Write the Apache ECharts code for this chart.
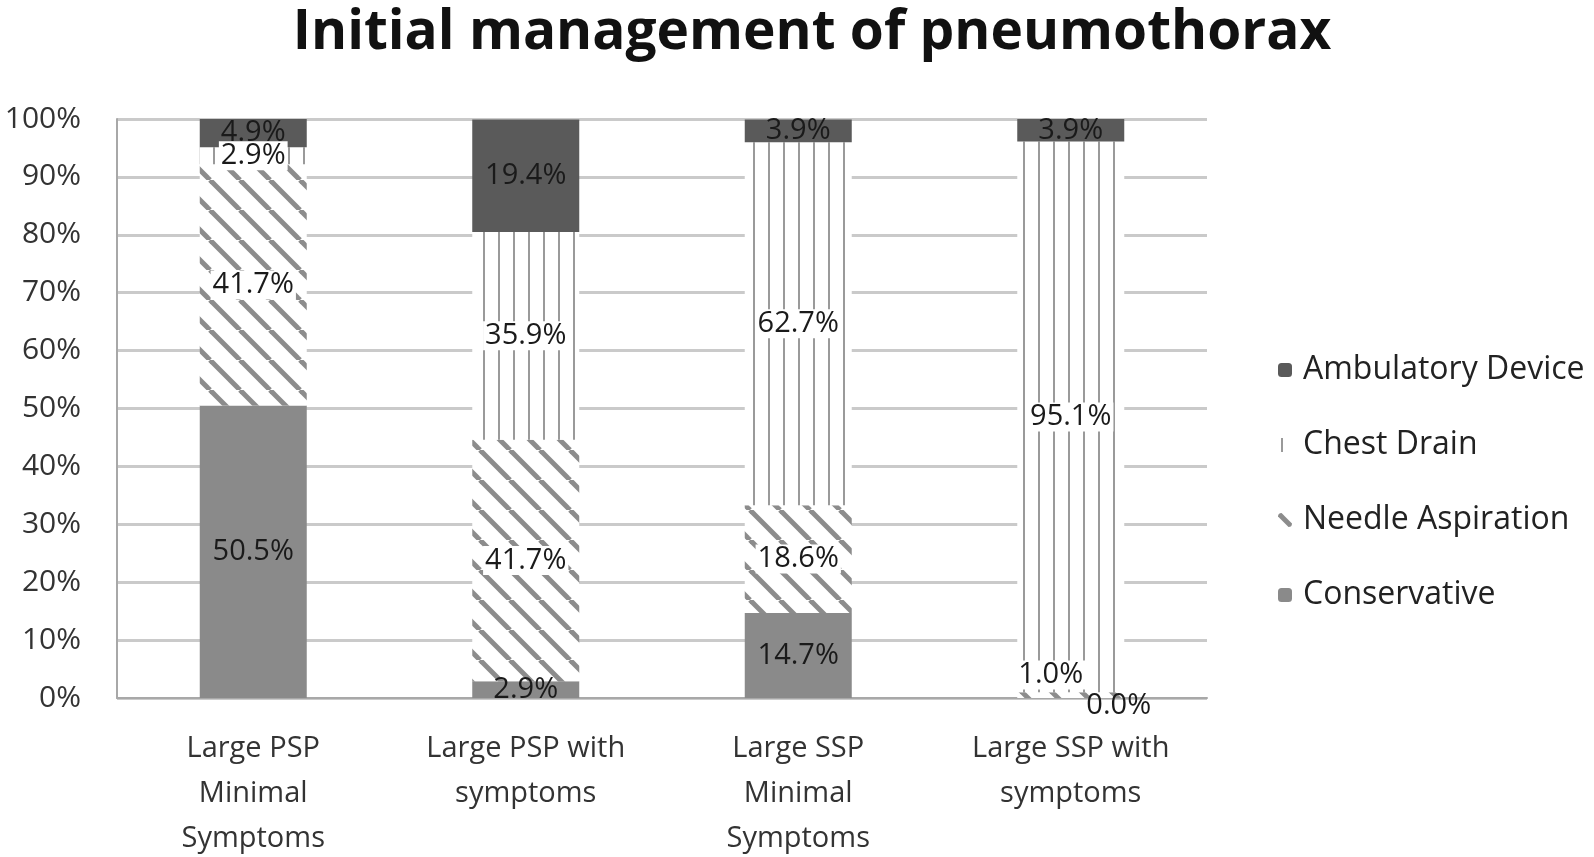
<!DOCTYPE html>
<html>
<head>
<meta charset="utf-8">
<script src="https://cdn.jsdelivr.net/npm/echarts@6/dist/echarts.min.js"></script>
<style>
  html, body { margin: 0; padding: 0; background: #fff; }
  #main { width: 1594px; height: 857px; }
</style>
</head>
<body>
<div id="main"></div>
<script>
var categories = ['Large PSP\nMinimal\nSymptoms', 'Large PSP with\nsymptoms', 'Large SSP\nMinimal\nSymptoms', 'Large SSP with\nsymptoms'];
var conservative = [50.5, 2.9, 14.7, 0.0];
var needleAspiration = [41.7, 41.7, 18.6, 1.0];
var chestDrain = [2.9, 35.9, 62.7, 95.1];
var ambulatoryDevice = [4.9, 19.4, 3.9, 3.9];
var yTicks = [0, 10, 20, 30, 40, 50, 60, 70, 80, 90, 100];

var FONT = '"Open Sans", sans-serif';

// vertical line pattern for chest drain
function vertPattern() {
  var c = document.createElement('canvas');
  c.width = 15; c.height = 10;
  var ctx = c.getContext('2d');
  ctx.fillStyle = '#fff';
  ctx.fillRect(0, 0, 15, 10);
  ctx.fillStyle = '#9a9a9a';
  ctx.fillRect(3, 0, 2, 10);
  return c;
}
// diagonal "\" pattern for needle aspiration
function diagPattern() {
  var s = 30;
  var c = document.createElement('canvas');
  c.width = s; c.height = s;
  var ctx = c.getContext('2d');
  ctx.fillStyle = '#fff';
  ctx.fillRect(0, 0, s, s);
  ctx.strokeStyle = '#8c8c8c';
  ctx.lineWidth = 5;
  [-s, 0, s].forEach(function (k) {
    ctx.beginPath();
    ctx.moveTo(k, 0);
    ctx.lineTo(k + s, s);
    ctx.stroke();
  });
  return c;
}

var myChart = echarts.init(document.getElementById('main'));

var labelBase = {
  show: true,
  position: 'inside',
  fontFamily: FONT,
  fontSize: 29,
  color: '#1a1a1a',
  formatter: function (p) { return p.value.toFixed(1) + '%'; }
};
var labelBoxed = Object.assign({}, labelBase, { backgroundColor: '#fff', padding: [0, 2] });

var option = {
  animation: false,
  title: {
    text: 'Initial management of pneumothorax',
    left: 807,
    textAlign: 'center',
    top: 1,
    textStyle: { fontFamily: FONT, fontSize: 55, fontWeight: 'bold', color: '#111' }
  },
  legend: {
    orient: 'vertical',
    left: 1273,
    top: 349,
    itemGap: 43,
    itemWidth: 14,
    itemHeight: 14,
    data: ['Ambulatory Device', 'Chest Drain', 'Needle Aspiration', 'Conservative'],
    textStyle: { fontFamily: FONT, fontSize: 32, color: '#222', padding: [0, 0, 0, 6] }
  },
  grid: { left: 117, right: 387, top: 119, bottom: 159, outerBoundsMode: 'none' },
  xAxis: {
    type: 'category',
    data: categories,
    axisLine: { lineStyle: { color: '#a8a8a8', width: 2 } },
    axisTick: { show: false },
    axisLabel: { fontFamily: FONT, fontSize: 29, color: '#333', lineHeight: 45, margin: 28, interval: 0 }
  },
  yAxis: {
    type: 'value',
    min: yTicks[0],
    max: yTicks[yTicks.length - 1],
    interval: 10,
    axisLine: { show: true, lineStyle: { color: '#a8a8a8', width: 2 } },
    axisTick: { show: false },
    axisLabel: { fontFamily: FONT, fontSize: 30, color: '#333', margin: 36, formatter: '{value}%' },
    splitLine: { lineStyle: { color: '#cacaca', width: 3 } }
  },
  series: [
    {
      name: 'Conservative',
      type: 'bar',
      stack: 'total',
      barWidth: 107,
      itemStyle: { color: '#8a8a8a' },
      label: labelBase,
      data: conservative.map(function (v, i) {
        return i === 3 ? { value: v, label: { offset: [48, 8] } } : v;
      })
    },
    {
      name: 'Needle Aspiration',
      type: 'bar',
      stack: 'total',
      itemStyle: { color: { image: diagPattern(), repeat: 'repeat' } },
      label: labelBoxed,
      data: needleAspiration.map(function (v, i) {
        return i === 3 ? { value: v, label: { offset: [-20, -20] } } : v;
      })
    },
    {
      name: 'Chest Drain',
      type: 'bar',
      stack: 'total',
      itemStyle: { color: { image: vertPattern(), repeat: 'repeat' } },
      label: labelBoxed,
      data: chestDrain
    },
    {
      name: 'Ambulatory Device',
      type: 'bar',
      stack: 'total',
      itemStyle: { color: '#5a5a5a' },
      label: labelBase,
      data: ambulatoryDevice
    }
  ]
};

option && myChart.setOption(option);
</script>
</body>
</html>
